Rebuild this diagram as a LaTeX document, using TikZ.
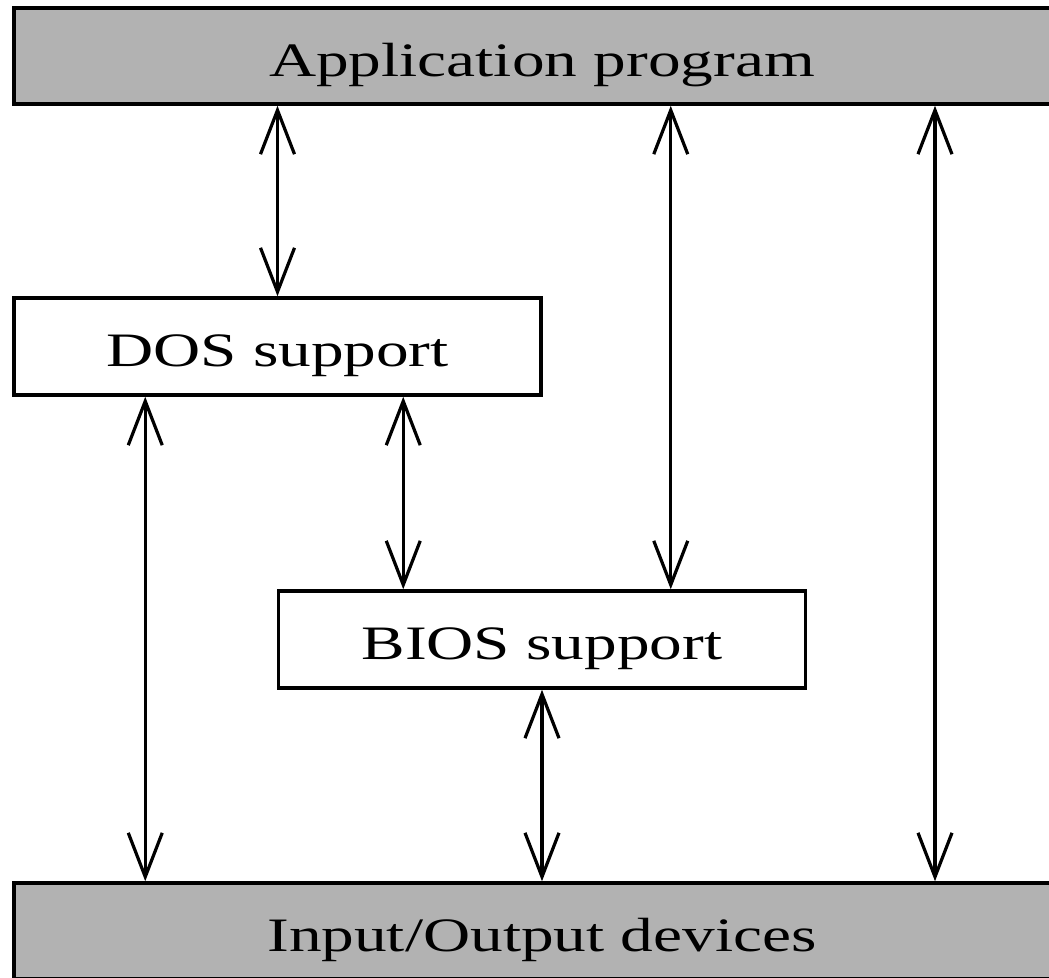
\documentclass[tikz,border=0pt]{standalone}
\usepackage{fontspec}
\setmainfont{Liberation Serif}
\usetikzlibrary{positioning,arrows.meta,calc}
\newcommand{\wide}[1]{\scalebox{1.36}[1]{#1}}

\begin{document}
\begin{tikzpicture}[x=1pt,y=-1pt,>={Straight Barb[length=44pt,width=34pt]},
  layer/.style={draw,line width=3.5pt,fill=black!30,minimum width=1056pt,minimum height=96pt,inner sep=0pt,
    text height=40pt,text depth=0pt,font=\fontsize{48}{56}\selectfont},
  part/.style={draw,line width=3.5pt,fill=white,minimum width=527pt,minimum height=97pt,inner sep=0pt,
    text height=40pt,text depth=0pt,font=\fontsize{48}{56}\selectfont},
  link/.style={<->,line width=3.2pt}]
\clip (0,0) rectangle (1049,977);
% layers
\node[layer] (app) at (542,56) {\wide{Application program}};
\node[layer] (io) at (542,931) {\wide{Input/Output devices}};
% support blocks
\node[part] (dos) at (277.5,346.5) {\wide{DOS support}};
\node[part] (bios) at (542,639.5) {\wide{BIOS support}};
% link points
\coordinate (d1) at ([xshift=133pt]dos.south west);
\coordinate (d2) at ([xshift=391pt]dos.south west);
\coordinate (b1) at ([xshift=394pt]bios.north west);
\coordinate (r1) at (935,0);
\draw[link] (dos.north |- app.south) -- (dos.north);
\draw[link] (b1 |- app.south) -- (b1);
\draw[link] (r1 |- app.south) -- (r1 |- io.north);
\draw[link] (d1) -- (d1 |- io.north);
\draw[link] (d2) -- (d2 |- bios.north);
\draw[link] (bios.south) -- (bios.south |- io.north);
\end{tikzpicture}
\end{document}
